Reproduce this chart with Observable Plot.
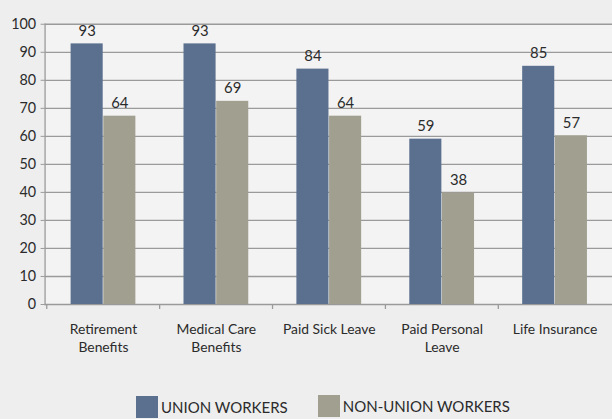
<!DOCTYPE html>
<html>
<head>
<meta charset="utf-8">
<script src="https://cdn.jsdelivr.net/npm/d3@7"></script>
<script src="https://cdn.jsdelivr.net/npm/@observablehq/plot@0.6"></script>
<style>
  html, body { margin: 0; padding: 0; background: #eeeeee; overflow: hidden; width: 612px; height: 419px; }
  #chart svg { display: block; overflow: hidden; }
  .legend { display: flex; align-items: flex-start; padding-left: 136px; margin-top: 5px; font-family: Lato, "Open Sans", sans-serif; font-size: 15px; color: #2b2b2b; }
  .legend .item { display: flex; align-items: flex-start; }
  .legend .sw { display: inline-block; width: 22px; height: 22px; margin-right: 3px; }
  .legend .lab { line-height: 22px; margin-top: 0px; }
</style>
</head>
<body>
<div id="chart"></div>
<div class="legend" id="legend"></div>
<script>
const categories = ["Retirement Benefits", "Medical Care Benefits", "Paid Sick Leave", "Paid Personal Leave", "Life Insurance"];
const categoryLabels = ["Retirement\nBenefits", "Medical Care\nBenefits", "Paid Sick Leave", "Paid Personal\nLeave", "Life Insurance"];
const seriesNames = ["UNION WORKERS", "NON-UNION WORKERS"];
const seriesColors = ["#5b708f", "#a19f8f"];
const unionValues = [93, 93, 84, 59, 85];
const unionLabels = [93, 93, 84, 59, 85];
const nonUnionBarValues = [67.2, 72.5, 67.2, 39.8, 60.2];
const nonUnionLabels = [64, 69, 64, 38, 57];
const yTicks = [0, 10, 20, 30, 40, 50, 60, 70, 80, 90, 100];

const W = 618, H = 395, mL = 45, mR = 0, mT = 24, mB = 88;
const step = (W - mL - mR) / categories.length;
const barW = 33;
const half = step / 2;

const union = categories.map((c, i) => ({cat: c, value: unionValues[i], label: unionLabels[i]}));
const nonUnion = categories.map((c, i) => ({cat: c, value: nonUnionBarValues[i], label: nonUnionLabels[i]}));
const font = "Lato, 'Open Sans', sans-serif";
const gridColor = "#9a9a9a";

const plot = Plot.plot({
  width: W, height: H,
  marginLeft: mL, marginRight: mR, marginTop: mT, marginBottom: mB,
  style: {background: "transparent", fontFamily: font, color: "#2b2b2b"},
  x: {domain: categories, padding: 0},
  y: {domain: [0, 100]},
  marks: [
    Plot.frame({fill: "#f3f3f3", stroke: null}),
    Plot.gridY(yTicks, {stroke: gridColor, strokeOpacity: 1, strokeWidth: 1.3}),
    Plot.frame({anchor: "left", stroke: gridColor, strokeWidth: 1.3}),
    Plot.ruleX(categories, {x: d => d, y1: 0, y2: 0, dx: -half, insetBottom: -5, stroke: gridColor, strokeWidth: 1.3}),
    Plot.axisY({ticks: yTicks, tickSize: 4, tickPadding: 5, fontSize: 14.5, stroke: gridColor, label: null}),
    Plot.axisX({tickSize: 0, tickPadding: 17, fontSize: 14, lineHeight: 1.3, tickFormat: d => categoryLabels[categories.indexOf(d)], label: null}),
    Plot.barY(union, {x: "cat", y: "value", fill: seriesColors[0], insetLeft: half - barW, insetRight: half}),
    Plot.barY(nonUnion, {x: "cat", y: "value", fill: seriesColors[1], insetLeft: half, insetRight: half - barW}),
    Plot.text(union, {x: "cat", y: "value", text: "label", dx: -barW / 2, dy: -13, fontSize: 15, fill: "#2b2b2b"}),
    Plot.text(nonUnion, {x: "cat", y: "value", text: "label", dx: barW / 2, dy: -13, fontSize: 15, fill: "#2b2b2b"})
  ]
});
document.getElementById("chart").appendChild(plot);

const legend = document.getElementById("legend");
seriesNames.forEach((name, i) => {
  const item = document.createElement("div");
  item.className = "item";
  if (i > 0) item.style.marginLeft = "30px";
  if (i > 0) item.style.marginTop = "-1px";
  const sw = document.createElement("span");
  sw.className = "sw";
  sw.style.background = seriesColors[i];
  const lab = document.createElement("span");
  lab.className = "lab";
  lab.textContent = name;
  item.appendChild(sw);
  item.appendChild(lab);
  legend.appendChild(item);
});
</script>
</body>
</html>
